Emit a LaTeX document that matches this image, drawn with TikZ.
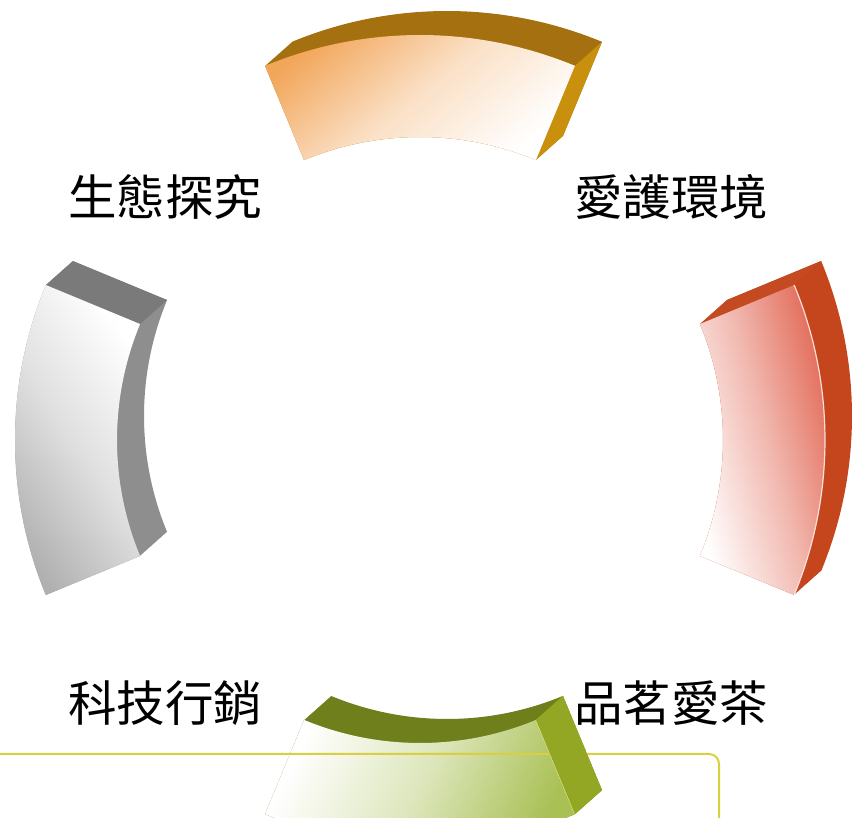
\documentclass[tikz,border=0pt]{standalone}
\usepackage{fontspec}
\newfontfamily\cjk{Noto Sans CJK TC}
\definecolor{topA}{HTML}{A5700F}
\definecolor{topB}{HTML}{C8900C}
\definecolor{topF}{HTML}{F2A65A}
\definecolor{rightA}{HTML}{C5451C}
\definecolor{rightB}{HTML}{C44A22}
\definecolor{rightF}{HTML}{E0604C}
\definecolor{leftA}{HTML}{8E8E8E}
\definecolor{leftB}{HTML}{7A7A7A}
\definecolor{leftF}{HTML}{B0B0B0}
\definecolor{botA}{HTML}{6E7F1B}
\definecolor{botB}{HTML}{93A724}
\definecolor{botF}{HTML}{A9C055}
\definecolor{frameY}{HTML}{D8D040}
\newcommand\mysector[1]{([shift={(420,378)}]#1-22.5:405) arc[start angle=#1-22.5,end angle=#1+22.5,radius=405] -- ([shift={(420,378)}]#1+22.5:303) arc[start angle=#1+22.5,end angle=#1-22.5,radius=303] -- cycle}
\newcommand\mycap[1]{([shift={(420,378)}]#1:303) -- ([shift={(420,378)}]#1:405) -- ([shift={(447,402)}]#1:405) -- ([shift={(447,402)}]#1:303) -- cycle}
\newcommand\mysweep[2]{\foreach \i in {0,...,30}{\fill[#2, shift={(27*\i/30,24*\i/30)}] \mysector{#1};}}
\tikzset{label/.style={font=\cjk\fontsize{48.5}{52}\selectfont, text=black, inner sep=0pt}}
\begin{document}
\begin{tikzpicture}[x=1pt,y=1pt]
\useasboundingbox (0,0) rectangle (856,818);
% top segment
\mysweep{90}{topA}
\fill[topB] \mycap{67.5};
\shade[top color=topF, bottom color=white, middle color=topF!35!white, shading angle=40] \mysector{90};
% right segment
\mysweep{0}{rightA}
\fill[rightB] \mycap{22.5};
\shade[top color=rightF, bottom color=white, middle color=rightF!45!white, shading angle=-75] \mysector{0};
\draw[white!80!rightF, line width=1.2] ([shift={(420,378)}]-22.5:405) arc[start angle=-22.5,end angle=22.5,radius=405];
% left segment
\mysweep{180}{leftA}
\fill[leftB] \mycap{157.5};
\shade[top color=leftF, bottom color=white, middle color=leftF!40!white, shading angle=125] \mysector{180};
% bottom segment
\mysweep{270}{botA}
\fill[botB] \mycap{292.5};
\shade[top color=botF, bottom color=white, middle color=botF!40!white, shading angle=-115] \mysector{270};
\draw[white!60!botB!80!yellow, line width=1.2] ([shift={(420,378)}]292.5:303) -- ([shift={(420,378)}]292.5:405);
% frame line
\draw[frameY, line width=2] (-5,64) -- (709,64) arc[start angle=90,end angle=0,radius=10] -- (719,-5);
\begin{scope}
\clip \mycap{292.5};
\fill[botB, even odd rule] \mycap{292.5} \mysector{270};
\end{scope}
% labels
\node[label] (l1) at (165,621) {生態探究};
\node[label] (l2) at (671,621) {愛護環境};
\node[label] (l3) at (165,115) {科技行銷};
\node[label] (l4) at (671,115) {品茗愛茶};
\end{tikzpicture}
\end{document}
